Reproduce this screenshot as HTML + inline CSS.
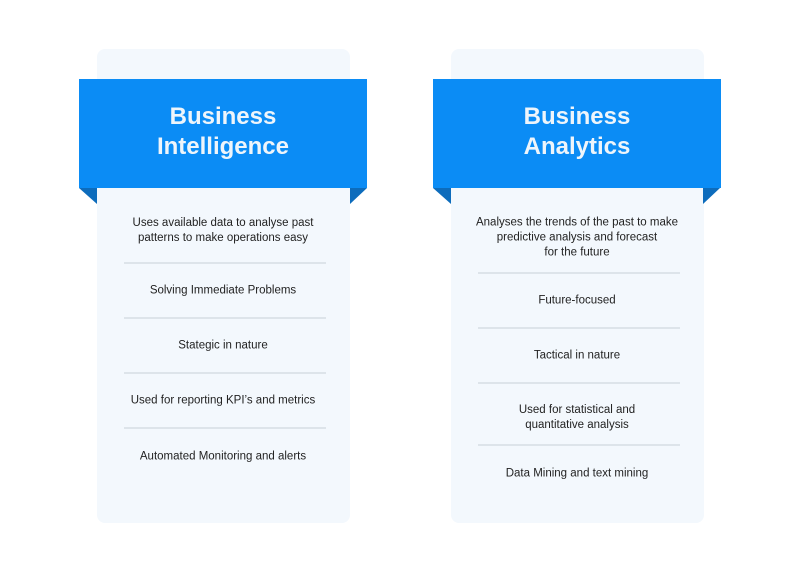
<!DOCTYPE html>
<html><head><style>
body{margin:0;width:800px;height:573px;background:#fff;position:relative;overflow:hidden;font-family:"Liberation Sans",sans-serif}
.card{position:absolute;top:49px;width:253px;height:474px;background:#f3f8fd;border-radius:8px}
.ban{position:absolute;top:79px;width:288px;height:109px;background:#0b8cf5;color:#eef5fb;font-weight:bold;font-size:24px;text-align:center;line-height:30px;box-sizing:border-box;padding-top:23px}
.t{position:absolute;width:260px;text-align:center;font-size:11.5px;line-height:15px;color:#222;transform:translateY(-50%)}
.d{position:absolute;height:2px;width:202px;background:#dde4ea}
</style></head><body>
<div class="card" style="left:97px"></div>
<div class="card" style="left:451px"></div>
<svg width="800" height="573" style="position:absolute;left:0;top:0">
<polygon points="79,188 97,188 97,204" fill="#0d6cbc"/>
<polygon points="367,188 350,188 350,204" fill="#0d6cbc"/>
<polygon points="433,188 451,188 451,204" fill="#0d6cbc"/>
<polygon points="720,188 703,188 703,204" fill="#0d6cbc"/>
</svg>
<div class="ban" style="left:79px">Business<br>Intelligence</div>
<div class="ban" style="left:433px">Business<br>Analytics</div>

<div class="t" style="left:93px;top:231px">Uses available data to analyse past<br>patterns to make operations easy</div>
<div class="d" style="left:124px;top:262px"></div>
<div class="t" style="left:93px;top:291px">Solving Immediate Problems</div>
<div class="d" style="left:124px;top:317px"></div>
<div class="t" style="left:93px;top:346px">Stategic in nature</div>
<div class="d" style="left:124px;top:372px"></div>
<div class="t" style="left:93px;top:401px">Used for reporting KPI’s and metrics</div>
<div class="d" style="left:124px;top:427px"></div>
<div class="t" style="left:93px;top:457px">Automated Monitoring and alerts</div>

<div class="t" style="left:447px;top:238px">Analyses the trends of the past to make<br>predictive analysis and forecast<br>for the future</div>
<div class="d" style="left:478px;top:272px"></div>
<div class="t" style="left:447px;top:301px">Future-focused</div>
<div class="d" style="left:478px;top:327px"></div>
<div class="t" style="left:447px;top:356px">Tactical in nature</div>
<div class="d" style="left:478px;top:382px"></div>
<div class="t" style="left:447px;top:418px">Used for statistical and<br>quantitative analysis</div>
<div class="d" style="left:478px;top:444px"></div>
<div class="t" style="left:447px;top:474px">Data Mining and text mining</div>
</body></html>
